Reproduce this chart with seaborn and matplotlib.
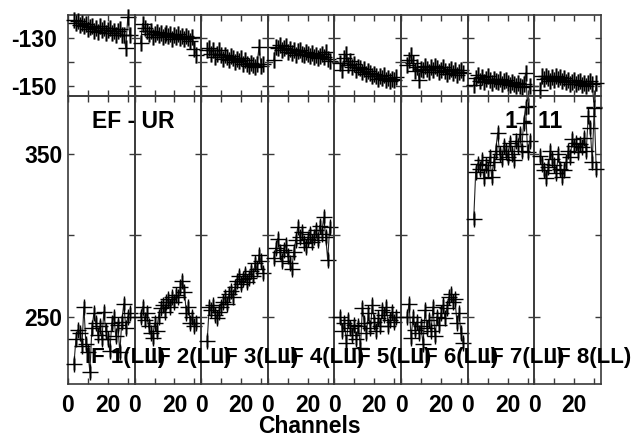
import pandas as pd
import seaborn as sns
import matplotlib
matplotlib.use("Agg")
import matplotlib.pyplot as plt
import matplotlib.transforms as mtransforms

# canais de 3 a 31 em cada IF
channels = list(range(3, 32))
if_labels = ["IF 1(LL)", "IF 2(LL)", "IF 3(LL)", "IF 4(LL)",
             "IF 5(LL)", "IF 6(LL)", "IF 7(LL)", "IF 8(LL)"]

# fase (painel de cima), um array por IF
phase_if1 = [-122.5, -123.4, -122.8, -124.6, -123.5, -125.0, -124.1, -126.2, -125.3, -124.7,
             -126.8, -125.6, -127.2, -124.9, -126.5, -125.8, -127.6, -126.3, -125.5, -127.9,
             -126.8, -128.4, -127.1, -126.2, -128.8, -128.6, -134.2, -121.0, -128.4]
phase_if2 = [-132.0, -123.8, -125.5, -126.9, -128.2, -127.0, -129.5, -128.1, -127.4, -128.8,
             -127.9, -129.3, -128.5, -127.6, -129.0, -128.3, -130.1, -128.7, -129.4, -128.2,
             -129.8, -128.9, -130.4, -129.1, -130.0, -131.2, -129.6, -134.5, -137.0]
phase_if3 = [-135.0, -134.2, -136.5, -135.1, -137.8, -136.4, -134.9, -137.2, -138.5, -136.8,
             -137.9, -139.1, -137.6, -138.4, -140.0, -138.8, -139.5, -138.1, -140.6, -139.3,
             -140.9, -141.8, -140.2, -141.3, -142.0, -140.7, -133.6, -141.5, -140.9]
phase_if4 = [-139.0, -133.5, -134.2, -132.8, -135.1, -134.0, -133.2, -135.6, -134.4, -136.2,
             -135.0, -136.8, -135.5, -134.7, -136.4, -137.1, -135.9, -136.6, -137.5, -136.0,
             -137.8, -136.9, -138.2, -137.3, -136.6, -138.0, -135.6, -138.8, -139.6]
phase_if5 = [-140.5, -143.2, -138.4, -136.5, -141.0, -139.6, -142.2, -140.8, -143.5, -141.9,
             -142.6, -144.0, -142.8, -145.1, -143.6, -144.5, -146.0, -144.8, -145.6, -147.2,
             -145.9, -146.8, -145.4, -147.6, -146.5, -148.0, -146.9, -147.4, -146.2]
phase_if6 = [-141.2, -139.0, -137.2, -140.5, -143.8, -141.9, -147.4, -142.7, -143.5, -141.6,
             -142.9, -144.1, -142.2, -143.4, -141.8, -142.6, -144.3, -143.1, -142.0, -143.7,
             -145.0, -143.9, -142.8, -144.6, -143.5, -145.2, -144.0, -143.3, -144.4]
phase_if7 = [-149.6, -146.8, -145.3, -147.9, -146.2, -148.4, -147.0, -145.9, -147.6, -148.8,
             -146.9, -147.7, -148.5, -147.2, -149.0, -148.1, -147.4, -148.9, -149.6, -148.3,
             -149.2, -150.1, -148.7, -149.8, -150.5, -149.1, -144.6, -158.3, -150.2]
phase_if8 = [-151.6, -146.0, -147.2, -145.6, -146.8, -148.0, -146.4, -147.5, -145.9, -147.1,
             -146.3, -147.8, -146.6, -148.2, -147.4, -149.0, -148.3, -147.6, -149.2, -148.5,
             -147.9, -149.4, -148.7, -149.8, -148.9, -147.8, -149.3, -159.0, -148.6]

# amplitude (painel de baixo)
amp_if1 = [221, 236, 242, 240, 232, 256, 233, 228, 216, 243, 252, 246, 239, 244, 236,
           253, 241, 236, 229, 246, 250, 238, 245, 228, 247, 258, 243, 250, 252]
amp_if2 = [250, 256, 248, 252, 244, 240, 237, 246, 241, 250, 255, 257, 253, 259, 261,
           256, 262, 259, 263, 262, 268, 272, 265, 252, 256, 246, 250, 244, 246]
amp_if3 = [235, 256, 254, 257, 251, 249, 253, 256, 259, 262, 258, 264, 266, 262, 268,
           272, 275, 270, 273, 276, 271, 274, 278, 275, 283, 279, 288, 284, 277]
amp_if4 = [286, 292, 298, 290, 284, 291, 294, 287, 283, 279, 290, 297, 305, 299, 302,
           295, 293, 298, 301, 296, 299, 303, 297, 306, 301, 311, 299, 285, 305]
amp_if5 = [250, 241, 246, 234, 248, 243, 239, 245, 236, 244, 231, 255, 246, 240, 252,
           243, 257, 247, 241, 249, 244, 254, 251, 256, 244, 248, 253, 247, 250]
amp_if6 = [250, 258, 237, 250, 242, 247, 240, 244, 233, 254, 243, 248, 241, 256, 238,
           250, 245, 252, 257, 249, 255, 262, 264, 259, 261, 246, 252, 240, 234]
amp_if7 = [310, 339, 344, 341, 346, 335, 343, 340, 348, 336, 345, 352, 363, 350, 347,
           355, 352, 348, 357, 350, 346, 358, 355, 362, 352, 369, 379, 351, 358]
amp_if8 = [349, 344, 340, 335, 342, 352, 347, 343, 338, 350, 341, 336, 340, 345, 352,
           348, 359, 355, 357, 351, 356, 354, 360, 352, 373, 366, 345, 378, 341]

phases = [phase_if1, phase_if2, phase_if3, phase_if4, phase_if5, phase_if6, phase_if7, phase_if8]
amps = [amp_if1, amp_if2, amp_if3, amp_if4, amp_if5, amp_if6, amp_if7, amp_if8]

# monta um DataFrame longo
rows = []
for k in range(8):
    for i, ch in enumerate(channels):
        rows.append({"if": k, "channel": ch, "phase": phases[k][i], "amp": amps[k][i]})
df = pd.DataFrame(rows)

sns.set_style("ticks")
plt.rcParams["font.family"] = ["Liberation Sans", "DejaVu Sans"]
plt.rcParams["font.weight"] = "bold"
plt.rcParams["text.color"] = "black"
plt.rcParams["xtick.labelcolor"] = "black"
plt.rcParams["ytick.labelcolor"] = "black"

fig = plt.figure(figsize=(6.41, 4.37), dpi=100)
gs = fig.add_gridspec(2, 8, left=0.106, right=0.9376, top=0.9657, bottom=0.1213,
                      hspace=0, wspace=0, height_ratios=[81, 288])

spine_color = "#3a3a3a"
for k in range(8):
    sub = df[df["if"] == k]
    for row, col in [(0, "phase"), (1, "amp")]:
        ax = fig.add_subplot(gs[row, k])
        ax.set_facecolor("none")
        # barras cinzas verticais (erros)
        sns.scatterplot(data=sub, x="channel", y=col, ax=ax, marker="|",
                        s=130 if row == 0 else 70,
                        color="#8c8c8c", linewidth=2.0, clip_on=False, zorder=2)
        sns.lineplot(data=sub, x="channel", y=col, ax=ax, estimator=None, sort=False,
                     color="#222222", linewidth=0.8, marker="+", markersize=11,
                     markeredgecolor="black", markeredgewidth=1.0, clip_on=False, zorder=3)
        ax.set_xlim(0, 33.4)
        ax.set_xticks([0, 10, 20, 30])
        ax.set_xlabel("")
        ax.set_ylabel("")
        if row == 0:
            ax.set_ylim(-154.2, -120.2)
            ax.set_yticks([-150, -140, -130])
            ax.set_yticklabels(["-150", "", "-130"])
            ax.tick_params(axis="y", pad=8)
            ax.tick_params(axis="x", labelbottom=False)
        else:
            ax.set_ylim(208.6, 385.6)
            ax.set_yticks([250, 300, 350])
            ax.set_yticklabels(["250", "", "350"])
            ax.set_xticklabels(["0", "", "20", ""])
            ax.tick_params(axis="y", pad=4)
            ax.tick_params(axis="x", pad=7)
            # "20" fica um pouco à esquerda do tick
            off = mtransforms.ScaledTranslation(-3 / 100, 0, fig.dpi_scale_trans)
            lab = ax.get_xticklabels()[2]
            lab.set_transform(lab.get_transform() + off)
            fig.text(0.25, 0.073, if_labels[k], transform=ax.transAxes, fontsize=16,
                     fontweight="bold", color="black", ha="left", va="baseline", zorder=10)
        ax.tick_params(direction="in", top=True, right=True, length=4.5, width=1.0,
                       color=spine_color, labelsize=16.5, labelcolor="black")
        if k > 0:
            ax.tick_params(axis="y", labelleft=False)
        for s in ax.spines.values():
            s.set_color(spine_color)
            s.set_linewidth(1.2)

fig.text(92 / 641, 1 - 122 / 437, "EF - UR", fontsize=16.5, fontweight="bold",
         color="black", ha="left", va="center")
fig.text(562 / 641, 1 - 122 / 437, "1 - 11", fontsize=16.5, fontweight="bold",
         color="black", ha="right", va="center")
fig.text(309 / 641, 4 / 437, "Channels", fontsize=16.5, fontweight="bold",
         color="black", ha="center", va="baseline")

fig.savefig("out.png", dpi=100)
